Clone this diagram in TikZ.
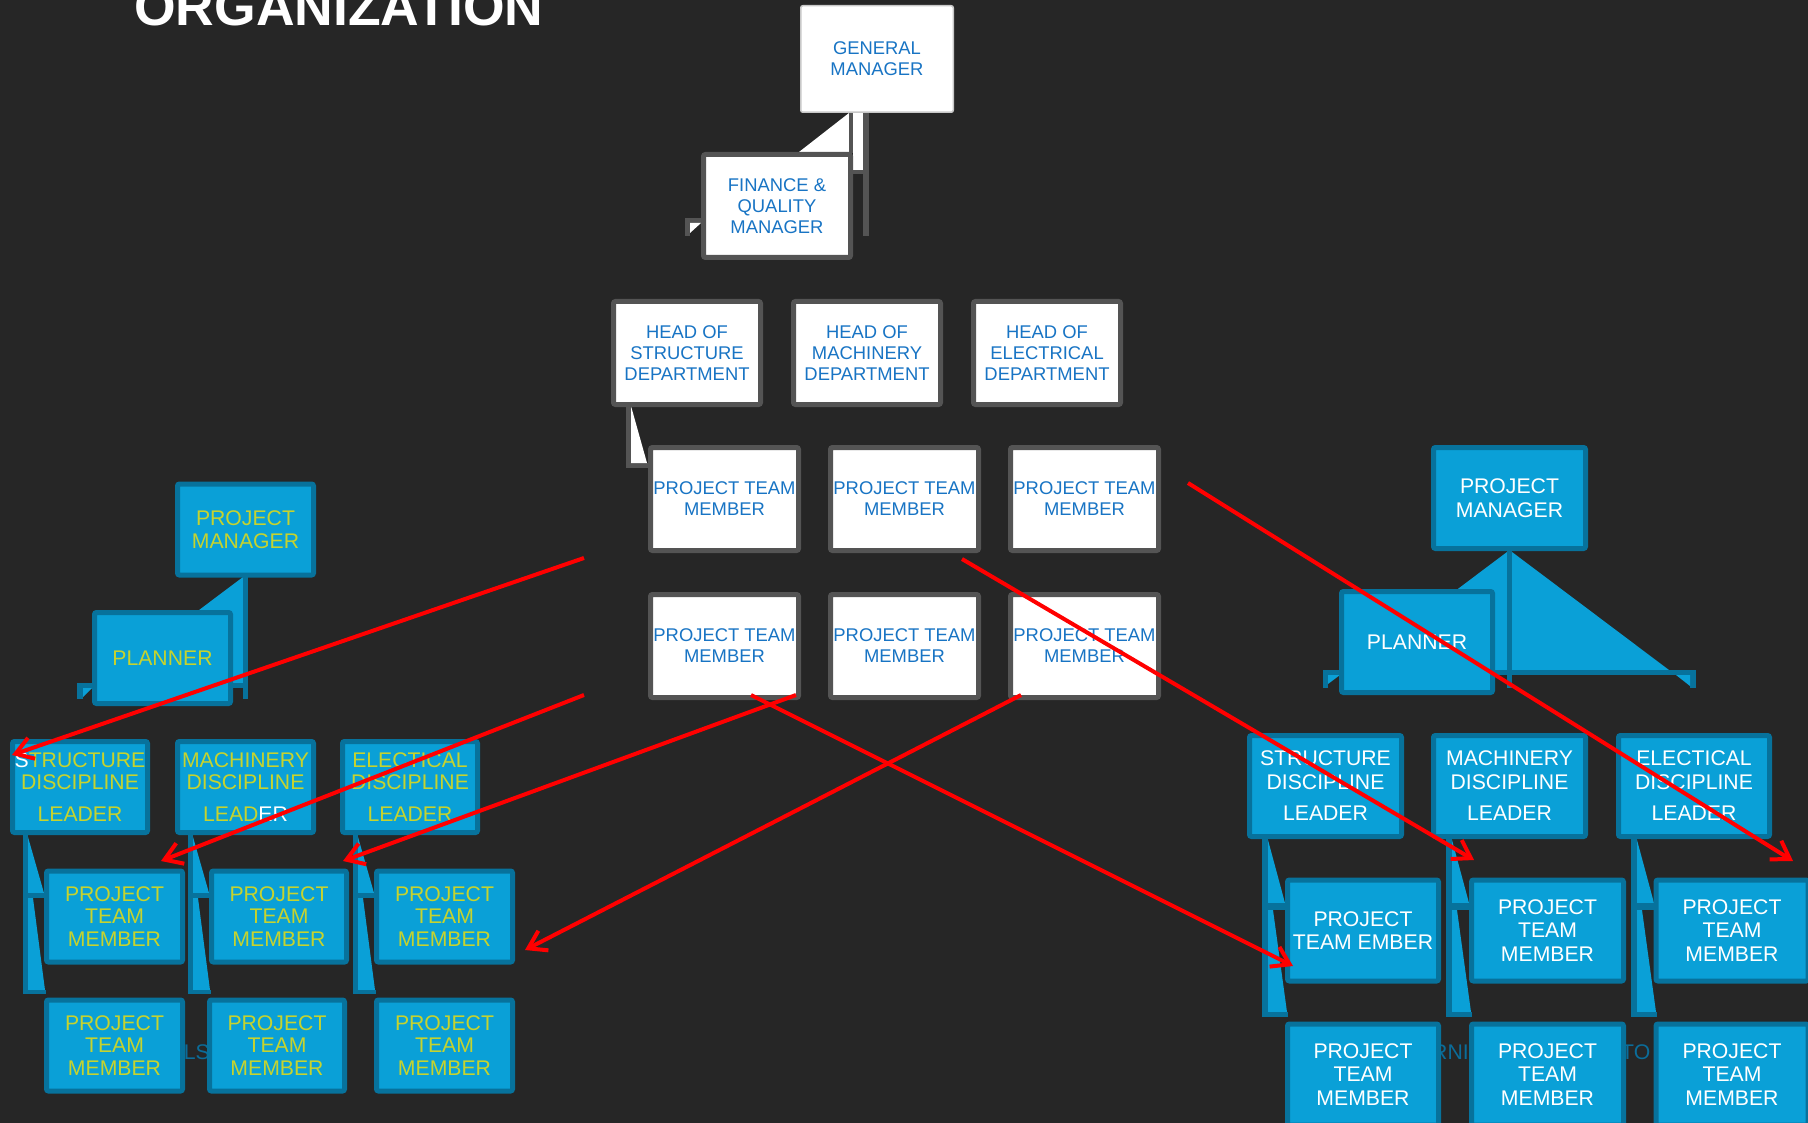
\documentclass[tikz,border=0pt]{standalone}
\usepackage{fontspec}
\setmainfont{Liberation Sans}
\usetikzlibrary{arrows.meta}
\definecolor{bg}{HTML}{262626}
\definecolor{wgrey}{HTML}{545454}
\definecolor{gmline}{HTML}{C8C8C8}
\definecolor{tblue}{HTML}{1874C4}
\definecolor{bfill}{HTML}{0AA0D7}
\definecolor{bdark}{HTML}{07729C}
\definecolor{tyell}{HTML}{C6D32E}
\definecolor{faint}{HTML}{0B6C99}
\begin{document}
\begin{tikzpicture}[x=1pt,y=-1pt,
  wbox/.style={draw=wgrey,line width=5pt,fill=white,rounded corners=2pt,text=tblue,
    font=\fontsize{18.4}{21}\selectfont,align=center,inner sep=0pt,
    minimum width=148pt,minimum height=103pt},
  lbox/.style={draw=bdark,line width=5pt,fill=bfill,rounded corners=2pt,text=tyell,
    font=\fontsize{21.2}{22.5}\selectfont,align=center,inner sep=0pt,
    minimum width=136pt,minimum height=91pt},
  rbox/.style={lbox,text=white,font=\fontsize{21.2}{23.5}\selectfont,
    minimum width=152pt,minimum height=101pt},
  redarrow/.style={draw=red,line width=4pt,-{Straight Barb[length=17pt,width=22pt]}},
  greyfill/.style={fill=wgrey},
  whitefill/.style={fill=white},
  bluefill/.style={fill=bfill},
  darkfill/.style={fill=bdark},
  faintlbl/.style={text=faint,font=\fontsize{21.2}{23}\selectfont,inner sep=0pt}
]
\useasboundingbox (0,0) rectangle (1808,1123);
\fill[bg] (0,0) rectangle (1808,1123);

% title
\node[anchor=base west,inner sep=0pt,text=white,font=\fontsize{53.5}{60}\selectfont\bfseries] (title) at (134,26) {ORGANIZATION};

% faint background texts
\node[faintlbl,anchor=east] (fl1) at (210,1052) {LS};
\node[faintlbl,anchor=west] (fl2) at (1432,1052) {RNI};
\node[faintlbl,anchor=west] (fl3) at (1621,1052) {TO};

% ---------- top (white) connectors ----------
\fill[whitefill] (849,113) -- (799,152) -- (849,152) -- cycle;
\fill[greyfill] (849,113) rectangle (853,153);
\fill[whitefill] (853,113) rectangle (863,170);
\fill[greyfill] (853,170) rectangle (863,174);
\fill[greyfill] (863,113) rectangle (869,236);
\fill[greyfill] (685,218) rectangle (701,223);
\fill[greyfill] (685,218) rectangle (690,236);
\fill[whitefill] (690,223) -- (701,223) -- (690,233) -- cycle;
% head of structure connector
\fill[greyfill] (626,403) rectangle (631,468);
\fill[greyfill] (626,463) rectangle (649,468);
\fill[whitefill] (631,406) -- (647,463) -- (631,463) -- cycle;

% ---------- left cluster connectors ----------
\fill[bluefill] (243,577) -- (102,683) -- (243,683) -- cycle;
\fill[darkfill] (243,577) rectangle (248,699);
\fill[darkfill] (77,683) rectangle (248,688);
\fill[darkfill] (77,683) rectangle (83,699);
\fill[bluefill] (83,688) -- (92,688) -- (83,697) -- cycle;
\foreach \L in {10,175,340} {
  \fill[darkfill] (\L+13,835) rectangle (\L+18,994);
  \fill[bluefill] (\L+18,837) -- (\L+34,893) -- (\L+18,893) -- cycle;
  \fill[darkfill] (\L+13,893) rectangle (\L+34,898);
  \fill[bluefill] (\L+18,898) -- (\L+23,898) -- (\L+35,990) -- (\L+18,990) -- cycle;
  \fill[darkfill] (\L+13,990) rectangle (\L+36,994);
}

% ---------- right cluster connectors ----------
\fill[bluefill] (1507,552) -- (1350,670) -- (1507,670) -- cycle;
\fill[bluefill] (1512,552) -- (1669,670) -- (1512,670) -- cycle;
\fill[darkfill] (1507,551) rectangle (1512,688);
\fill[darkfill] (1323,670) rectangle (1696,675);
\fill[darkfill] (1323,670) rectangle (1328,688);
\fill[darkfill] (1690,670) rectangle (1696,688);
\fill[bluefill] (1676,675) -- (1690,675) -- (1690,686) -- cycle;
\fill[bluefill] (1328,675) -- (1340,675) -- (1328,684) -- cycle;
\foreach \L in {1247,1431,1616} {
  \fill[darkfill] (\L+15,837) rectangle (\L+21,1017);
  \fill[bluefill] (\L+21,840) -- (\L+38,903) -- (\L+21,903) -- cycle;
  \fill[darkfill] (\L+15,903) rectangle (\L+38,910);
  \fill[bluefill] (\L+21,910) -- (\L+26,910) -- (\L+40,1012) -- (\L+21,1012) -- cycle;
  \fill[darkfill] (\L+15,1012) rectangle (\L+41,1017);
}

% ---------- white boxes ----------
\node[wbox,draw=gmline,line width=1.5pt,minimum width=152.5pt,minimum height=106.5pt] (gm) at (877,59) {GENERAL\\MANAGER};
\node[wbox,minimum width=147pt] (fin) at (777,206) {FINANCE \&\\QUALITY\\MANAGER};
\node[wbox,minimum width=147pt] (hs) at (687,353) {HEAD OF\\STRUCTURE\\DEPARTMENT};
\node[wbox,minimum width=147pt] (hm) at (867,353) {HEAD OF\\MACHINERY\\DEPARTMENT};
\node[wbox,minimum width=147pt] (he) at (1047,353) {HEAD OF\\ELECTRICAL\\DEPARTMENT};
\node[wbox] (w1) at (724.5,499) {PROJECT TEAM\\MEMBER};
\node[wbox] (w2) at (904.5,499) {PROJECT TEAM\\MEMBER};
\node[wbox] (w3) at (1084.5,499) {PROJECT TEAM\\MEMBER};
\node[wbox] (w4) at (724.5,646) {PROJECT TEAM\\MEMBER};
\node[wbox] (w5) at (904.5,646) {PROJECT TEAM\\MEMBER};
\node[wbox] (w6) at (1084.5,646) {PROJECT TEAM\\MEMBER};

% ---------- left blue cluster ----------
\node[lbox] (lpm) at (245.5,529.5) {PROJECT\\MANAGER};
\node[lbox] (lpl) at (162.5,658) {PLANNER};
\node[lbox,minimum width=135pt] (lsd) at (80,787) {{\color{white}S}TRUCTURE\\DISCIPLINE\\[9pt]LEADER};
\node[lbox] (lmd) at (245.5,787) {MACHINERY\\DISCIPLINE\\[9pt]LEAD{\color{white}ER}};
\node[lbox,minimum width=135pt] (led) at (410,787) {ELECTICAL\\DISCIPLINE\\[9pt]LEADER};
\node[lbox] (lt1) at (114.5,916.5) {PROJECT\\TEAM\\MEMBER};
\node[lbox,minimum width=135pt] (lt2) at (279,916.5) {PROJECT\\TEAM\\MEMBER};
\node[lbox] (lt3) at (444.5,916.5) {PROJECT\\TEAM\\MEMBER};
\node[lbox] (lt4) at (114.5,1045.5) {PROJECT\\TEAM\\MEMBER};
\node[lbox,minimum width=135pt] (lt5) at (277,1045.5) {PROJECT\\TEAM\\MEMBER};
\node[lbox] (lt6) at (444.5,1045.5) {PROJECT\\TEAM\\MEMBER};

% ---------- right blue cluster ----------
\node[rbox] (rpm) at (1509.5,498) {PROJECT\\MANAGER};
\node[rbox,minimum width=151pt] (rpl) at (1417,642) {PLANNER};
\node[rbox] (rsd) at (1325.5,786) {STRUCTURE\\DISCIPLINE\\[8pt]LEADER};
\node[rbox] (rmd) at (1509.5,786) {MACHINERY\\DISCIPLINE\\[8pt]LEADER};
\node[rbox,minimum width=151pt] (red) at (1694,786) {ELECTICAL\\DISCIPLINE\\[8pt]LEADER};
\node[rbox,minimum width=151pt] (rt1) at (1363,930.5) {PROJECT\\TEAM EMBER};
\node[rbox] (rt2) at (1547.5,930.5) {PROJECT\\TEAM\\MEMBER};
\node[rbox] (rt3) at (1732,930.5) {PROJECT\\TEAM\\MEMBER};
\node[rbox,minimum width=151pt] (rt4) at (1363,1074.5) {PROJECT\\TEAM\\MEMBER};
\node[rbox] (rt5) at (1547.5,1074.5) {PROJECT\\TEAM\\MEMBER};
\node[rbox] (rt6) at (1732,1074.5) {PROJECT\\TEAM\\MEMBER};

% ---------- red arrows ----------
\coordinate (a1s) at (584,558);  \coordinate (a1e) at (12,755);
\coordinate (a2s) at (584,695);  \coordinate (a2e) at (161,861);
\coordinate (a3s) at (796,695);  \coordinate (a3e) at (343,861);
\coordinate (a4s) at (1021,695); \coordinate (a4e) at (525,950);
\coordinate (a5s) at (751,695);  \coordinate (a5e) at (1293,966);
\coordinate (a6s) at (962,559);  \coordinate (a6e) at (1474,860);
\coordinate (a7s) at (1188,483); \coordinate (a7e) at (1793,861);
\draw[redarrow] (a1s) -- (a1e);
\draw[redarrow] (a2s) -- (a2e);
\draw[redarrow] (a3s) -- (a3e);
\draw[redarrow] (a4s) -- (a4e);
\draw[redarrow] (a5s) -- (a5e);
\draw[redarrow] (a6s) -- (a6e);
\draw[redarrow] (a7s) -- (a7e);
\end{tikzpicture}
\end{document}
